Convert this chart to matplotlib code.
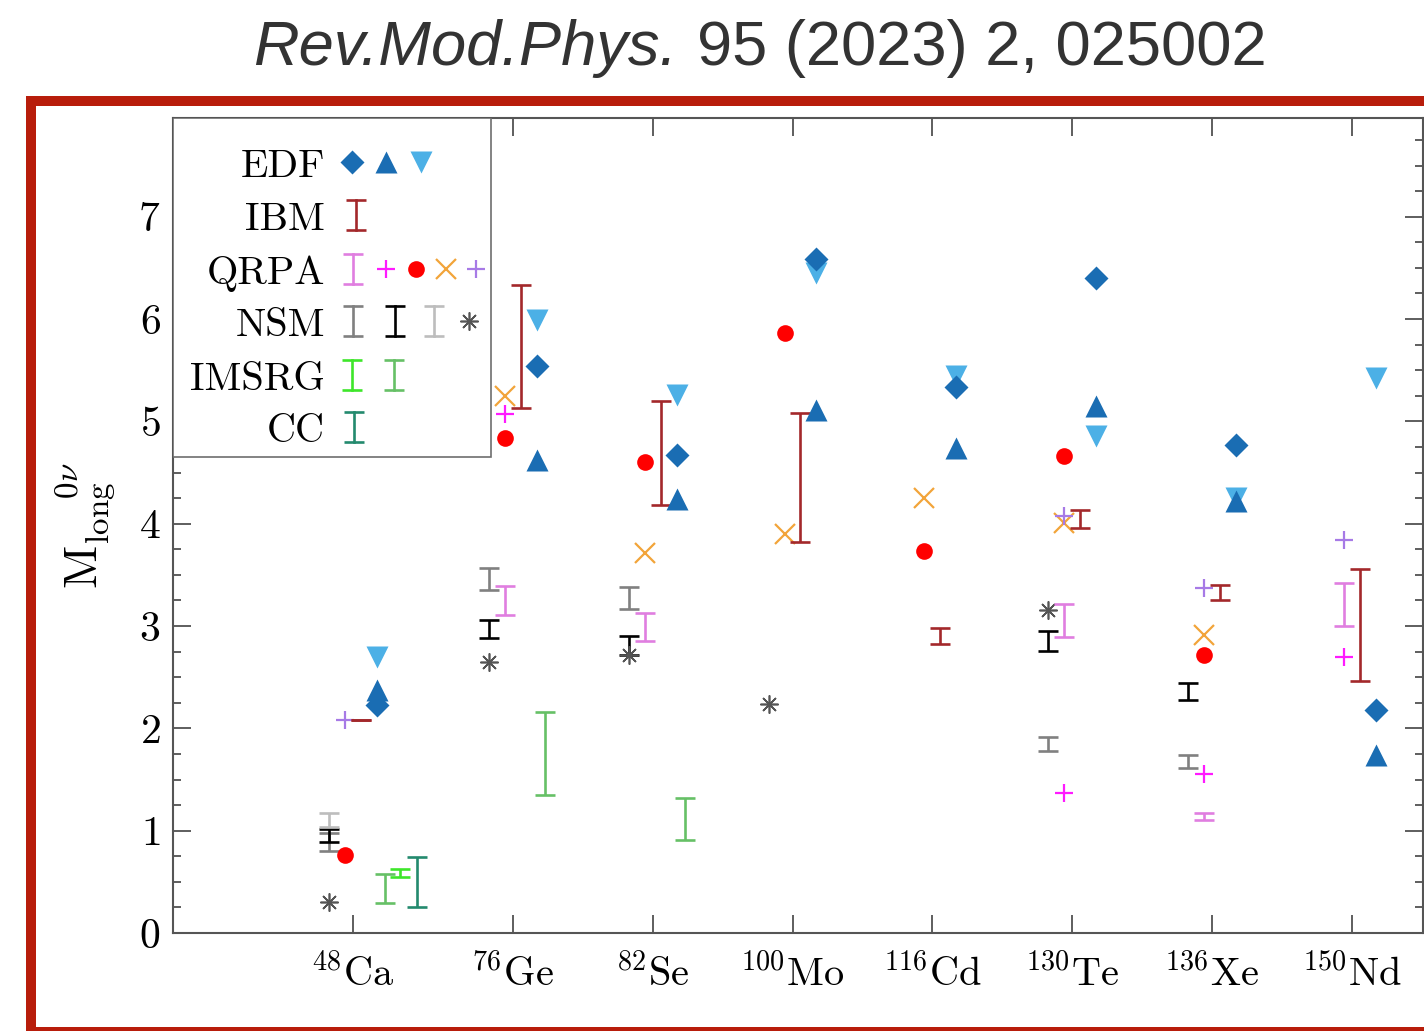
import numpy as np
import matplotlib
matplotlib.use('Agg')
import matplotlib.pyplot as plt
from matplotlib.patches import Rectangle
from matplotlib.ticker import MultipleLocator

plt.rcParams['font.family'] = ['cmr10', 'DejaVu Serif']
plt.rcParams['mathtext.fontset'] = 'cm'
plt.rcParams['axes.formatter.use_mathtext'] = True

nan = np.nan

nuclei = ['Ca', 'Ge', 'Se', 'Mo', 'Cd', 'Te', 'Xe', 'Nd']
mass = [48, 76, 82, 100, 116, 130, 136, 150]

# EDF
edf_diamond = [2.23, 5.54, 4.67, 6.59, 5.34, 6.40, 4.77, 2.18]
edf_up = [2.37, 4.62, 4.24, 5.11, 4.74, 5.15, 4.22, 1.74]
edf_down = [2.70, 5.99, 5.26, 6.45, 5.44, 4.86, 4.25, 5.42]

# IBM ranges
ibm_lo = [2.08, 5.13, 4.18, 3.82, 2.82, 3.96, 3.25, 2.46]
ibm_hi = [2.08, 6.33, 5.20, 5.08, 2.98, 4.13, 3.40, 3.56]

# QRPA
qrpa_lo = [nan, 3.11, 2.85, nan, nan, 2.89, 1.10, 3.00]
qrpa_hi = [nan, 3.39, 3.13, nan, nan, 3.22, 1.17, 3.42]
qrpa_plus = [nan, 5.07, nan, nan, nan, 1.37, 1.55, 2.70]
qrpa_dot = [0.76, 4.84, 4.60, 5.86, 3.73, 4.66, 2.72, nan]
qrpa_cross = [nan, 5.25, 3.71, 3.90, 4.25, 4.01, 2.91, nan]
qrpa_plus2 = [2.08, nan, nan, nan, nan, 4.08, 3.37, 3.84]

# NSM
nsm1_lo = [0.80, 3.35, 3.17, nan, nan, 1.78, 1.61, nan]
nsm1_hi = [0.98, 3.57, 3.38, nan, nan, 1.92, 1.74, nan]
nsm2_lo = [0.89, 2.88, 2.72, nan, nan, 2.76, 2.28, nan]
nsm2_hi = [1.02, 3.06, 2.90, nan, nan, 2.95, 2.44, nan]
nsm3_lo = [1.04, nan, nan, nan, nan, nan, nan, nan]
nsm3_hi = [1.17, nan, nan, nan, nan, nan, nan, nan]
nsm_star = [0.30, 2.65, 2.72, 2.24, nan, 3.16, nan, nan]

# IMSRG and CC
imsrg1_lo = [0.55, nan, nan, nan, nan, nan, nan, nan]
imsrg1_hi = [0.63, nan, nan, nan, nan, nan, nan, nan]
imsrg2_lo = [0.29, 1.35, 0.91, nan, nan, nan, nan, nan]
imsrg2_hi = [0.58, 2.16, 1.32, nan, nan, nan, nan, nan]
cc_lo = [0.25, nan, nan, nan, nan, nan, nan, nan]
cc_hi = [0.74, nan, nan, nan, nan, nan, nan, nan]

xpos = np.array([0.857, 2, 3, 4, 5, 6, 7, 8])

c_edf = '#1a6db3'
c_edf2 = '#4cb0e6'
c_ibm = '#a3282b'
c_qrpa = '#e07ee0'
c_mag = '#ff1aff'
c_red = '#ff0000'
c_orange = '#f2a43a'
c_purple = '#a77ae6'
c_gray = '#808080'
c_lgray = '#bdbdbd'
c_star = '#555555'
c_lime = '#3ee62a'
c_green = '#66c066'
c_cc = '#238a6e'

fig = plt.figure(figsize=(14.24, 10.31), dpi=100)
ax = fig.add_axes([173 / 1424, 1 - 933 / 1031, 1250 / 1424, 815 / 1031])

EW = 1.9
CAP = 7.5


def band(lo, hi, dx, color):
    lo = np.asarray(lo)
    hi = np.asarray(hi)
    ok = ~np.isnan(lo)
    mid = (lo + hi) / 2
    ax.errorbar(xpos[ok] + dx, mid[ok], yerr=(hi - lo)[ok] / 2, fmt='none',
                ecolor=color, elinewidth=EW, capsize=CAP, capthick=EW)


def pts(vals, dx, **kw):
    v = np.asarray(vals)
    ok = ~np.isnan(v)
    ax.plot(xpos[ok] + dx, v[ok], ls='none', **kw)


sty = {
    'dia': dict(marker='D', ms=12.5, color=c_edf, mec='none'),
    'up': dict(marker='^', ms=16, color=c_edf, mec='none'),
    'down': dict(marker='v', ms=16, color=c_edf2, mec='none'),
    'plus': dict(marker='+', ms=13, color=c_mag, mew=1.6),
    'dot': dict(marker='o', ms=12, color=c_red, mec='none'),
    'cross': dict(marker='x', ms=14, color=c_orange, mew=1.6),
    'plus2': dict(marker='+', ms=13, color=c_purple, mew=1.6),
    'star': dict(marker=(8, 2, 0), ms=13, color=c_star, mew=1.2),
}

# NSM
band(nsm1_lo, nsm1_hi, -0.171, c_gray)
band(nsm2_lo, nsm2_hi, -0.171, 'black')
band(nsm3_lo, nsm3_hi, -0.171, c_lgray)
pts(nsm_star, -0.171, **sty['star'])

# QRPA
band(qrpa_lo, qrpa_hi, -0.057, c_qrpa)
pts(qrpa_plus, -0.057, **sty['plus'])
pts(qrpa_dot, -0.057, **sty['dot'])
pts(qrpa_cross, -0.057, **sty['cross'])
pts(qrpa_plus2, -0.057, **sty['plus2'])

# IBM
band(ibm_lo, ibm_hi, 0.057, c_ibm)

# EDF
pts(edf_down, 0.171, **sty['down'])
pts(edf_up, 0.171, **sty['up'])
pts(edf_diamond, 0.171, **sty['dia'])

# IMSRG, CC
band(imsrg2_lo, imsrg2_hi, 0.229, c_green)
band(imsrg1_lo, imsrg1_hi, 0.336, c_lime)
band(cc_lo, cc_hi, 0.457, c_cc)

ax.set_xlim(-0.4286, 8.507)
ax.set_ylim(0, 7.965)
ax.set_xticks(xpos)
ax.set_xticklabels([r'${}^{%d}\mathrm{%s}$' % (m, n) for m, n in zip(mass, nuclei)])
ax.set_yticks(range(0, 8))
ax.yaxis.set_minor_locator(MultipleLocator(0.25))
ax.tick_params(which='both', direction='in', top=True, right=True,
               color='#333333', width=1.1)
ax.tick_params(which='major', length=13, labelsize=30)
ax.tick_params(axis='x', pad=15, labelsize=29)
ax.tick_params(axis='y', pad=9)
ax.tick_params(which='minor', length=6)
for s in ax.spines.values():
    s.set_linewidth(1.5)
    s.set_color('#555555')

ax.text(-0.07, 0.5, r'$\mathrm{M}_{\mathrm{long}}^{\quad\;\;0\nu}$', transform=ax.transAxes,
        rotation=90, ha='center', va='center', fontsize=34)


# legend, placed in pixel units of the axes box
def fx(px):
    return (px - 173) / 1250


def fy(py):
    return (933 - py) / 815


ax.add_patch(Rectangle((0, fy(457)), fx(491), 1 - fy(457), transform=ax.transAxes,
                       fill=True, fc='white', ec='#6e6e6e', lw=1.2, zorder=5))

rows = [('EDF', 162), ('IBM', 215), ('QRPA', 269), ('NSM', 321), ('IMSRG', 375), ('CC', 427)]
for name, py in rows:
    ax.text(fx(325), fy(py + 15), name, transform=ax.transAxes, ha='right',
            va='baseline', fontsize=29, zorder=6)


def leg_bar(px, py, color):
    x = fx(px)
    y0, y1 = fy(py + 15), fy(py - 15)
    ax.plot([x, x], [y0, y1], color=color, lw=EW, transform=ax.transAxes, zorder=6)
    ax.plot([x, x], [y0, y1], ls='none', marker='_', ms=2 * CAP, mew=EW, color=color,
            transform=ax.transAxes, zorder=6)


def leg_pt(px, py, key):
    ax.plot([fx(px)], [fy(py)], ls='none', transform=ax.transAxes, zorder=6, **sty[key])


leg_pt(352, 162, 'dia')
leg_pt(386, 162, 'up')
leg_pt(421, 162, 'down')
leg_bar(356, 215, c_ibm)
leg_bar(353, 269, c_qrpa)
leg_pt(386, 269, 'plus')
leg_pt(416, 269, 'dot')
leg_pt(446, 269, 'cross')
leg_pt(476, 269, 'plus2')
leg_bar(353, 321, c_gray)
leg_bar(395, 321, 'black')
leg_bar(434, 321, c_lgray)
leg_pt(469, 321, 'star')
leg_bar(352, 375, c_lime)
leg_bar(394, 375, c_green)
leg_bar(354, 427, c_cc)

# frame and citation header
fig.add_artist(Rectangle((31 / 1424, 1 - 1032 / 1031), 1.05, (1032 - 101) / 1031,
                         transform=fig.transFigure, fill=False, ec='#b81d0b', lw=7.2,
                         clip_on=False))
fig.text(677 / 1424, 1 - 65 / 1031, 'Rev.Mod.Phys.', ha='right', va='baseline',
         fontsize=45.5, style='italic', color='#333333', family='Liberation Sans')
fig.text(697 / 1424, 1 - 65 / 1031, '95 (2023) 2, 025002', ha='left', va='baseline',
         fontsize=45.5, color='#333333', family='Liberation Sans')

fig.savefig('out.png', dpi=100)
